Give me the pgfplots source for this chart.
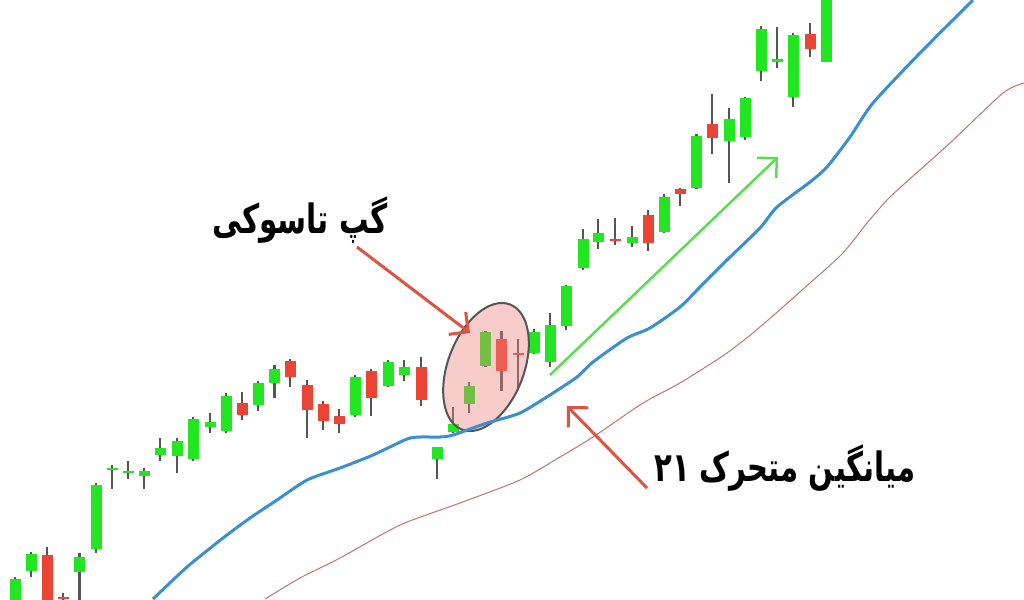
\documentclass[border=0pt]{standalone}
\usepackage{pgfplots}
\pgfplotsset{compat=1.18}
\usepackage{pgfplotstable}
\usepackage{graphicx}
\usetikzlibrary{arrows.meta}
\usepackage{fontspec}
\newfontfamily\arabicfont[Script=Arabic]{DejaVu Sans}
\TeXXeTstate=1

\definecolor{upgreen}{RGB}{34,230,34}
\definecolor{downred}{RGB}{236,68,52}
\definecolor{wickgray}{RGB}{85,85,85}
\definecolor{mablue}{RGB}{58,142,210}
\definecolor{slowred}{RGB}{200,112,112}
\definecolor{arrowgreen}{RGB}{90,222,80}
\definecolor{arrowred}{RGB}{222,84,68}
\definecolor{gappink}{RGB}{240,128,128}

% candles in screen units (y grows downwards): x, wick top/bottom, body top/bottom
\pgfplotstableread{
x     h    l    bt   bb
15    577  610  579  610
31    552  577  554  571
79.5  553  610  557  572
96    483  553  485  549
112   465  489  468  470
128   461  479  471  473
144   468  489  471  476
160   438  461  448  455
177   438  473  441  456
193   417  461  419  459
210   413  433  422  427
226   393  433  396  431
258   381  411  383  405
274.5 365  398  369  383
355   375  417  377  415
388   360  387  362  386
404   360  381  367  375
437   447  479  447  459
453   407  433  424  432
469   382  413  386  404
485.5 331  367  332  366
534   329  354  332  353
550   313  367  325  362
566   285  330  286  326
583   229  270  239  268
598   219  249  233  242
632   226  247  237  243
664   194  233  197  232
696.5 134  189  136  188
729   108  183  119  141
745   97   140  98   137
761   26   81   29   71
777   27   68   59   62
793   33   107  35   97
826   -10  62   -10  62
}\upcandles

\pgfplotstableread{
x     h    l    bt   bb
47    547  610  555  610
63    593  610  597  599
242   392  420  403  415
290   359  387  361  377
307   380  438  385  410
323   401  430  404  421
339   409  433  416  424
371   369  416  371  398
421   357  406  367  400
501.5 331  391  339  371
518   339  390  353  355
615   218  245  239  241
648   210  251  215  243
680   188  206  189  194
712   94   154  124  138
810   23   57   34   49
}\downcandles

\begin{document}
\begin{tikzpicture}
\begin{axis}[
    scale only axis,
    width=10.24cm, height=5.99cm,
    xmin=0, xmax=1024,
    ymin=0, ymax=599,
    y dir=reverse,
    axis line style={draw=none},
    ticks=none,
    clip=true
]
    % wicks
    \addplot [draw=none, mark=none, forget plot,
        error bars/.cd, y dir=plus, y explicit, error mark=none,
        error bar style={draw=wickgray, line width=0.22mm}]
        table [x=x, y=h, y error plus expr=\thisrow{l}-\thisrow{h}] {\upcandles};
    \addplot [draw=none, mark=none, forget plot,
        error bars/.cd, y dir=plus, y explicit, error mark=none,
        error bar style={draw=wickgray, line width=0.22mm}]
        table [x=x, y=h, y error plus expr=\thisrow{l}-\thisrow{h}] {\downcandles};
    % bodies
    \addplot [draw=none, mark=none, forget plot,
        error bars/.cd, y dir=plus, y explicit, error mark=none,
        error bar style={draw=upgreen, line width=1.1mm}]
        table [x=x, y=bt, y error plus expr=\thisrow{bb}-\thisrow{bt}] {\upcandles};
    \addplot [draw=none, mark=none, forget plot,
        error bars/.cd, y dir=plus, y explicit, error mark=none,
        error bar style={draw=downred, line width=1.1mm}]
        table [x=x, y=bt, y error plus expr=\thisrow{bb}-\thisrow{bt}] {\downcandles};

    % highlighted gap
    \draw [draw=wickgray, line width=0.2mm, fill=gappink, fill opacity=0.4]
        (axis cs:486,367) ellipse [x radius=3.8mm, y radius=6.7mm, rotate=-21];

    % slow average
    \addplot [slowred, line width=0.1mm, mark=none, smooth, tension=0.4] coordinates {
        (265,599) (300,578) (340,558) (400,525) (460,503) (520,480) (560,457)
        (593,437) (643,403) (680,383) (727,353) (760,327) (810,283) (843,253)
        (867,223) (887,200) (903,185) (950,143) (1003,93) (1024,83)};
    % 21-period moving average
    \addplot [mablue, line width=0.3mm, mark=none, smooth, tension=0.4] coordinates {
        (153,599) (187,567) (223,538) (250,518) (277,500) (307,480) (340,468)
        (373,455) (407,439) (420,437) (440,437) (453,435) (487,423) (520,413)
        (553,393) (577,377) (593,362) (627,338) (650,328) (680,307) (700,287)
        (727,260) (760,228) (777,207) (810,182) (827,167) (850,137) (873,103)
        (920,53) (973,0)};

    % annotations
    \draw [arrowgreen, line width=0.25mm, -{Straight Barb[length=1.4mm, width=2.8mm]}]
        (axis cs:550,375) -- (axis cs:778,157);
    \draw [arrowred, line width=0.3mm, -{Straight Barb[length=1.4mm, width=2.8mm]}]
        (axis cs:357,247) -- (axis cs:470,333);
    \draw [arrowred, line width=0.3mm, -{Straight Barb[length=1.4mm, width=2.8mm]}]
        (axis cs:647,488) -- (axis cs:567,406);

    \node [font=\arabicfont\bfseries\fontsize{11.5}{13}\selectfont] at (axis cs:300,220)
        {\scalebox{0.73}[1]{\beginR گپ تاسوکی\endR}};
    \node [font=\arabicfont\bfseries\fontsize{11.5}{13}\selectfont] at (axis cs:785,468)
        {\scalebox{0.72}[1]{\beginR میانگین متحرک \beginL ۲۱\endL\endR}};
\end{axis}
\end{tikzpicture}
\end{document}
